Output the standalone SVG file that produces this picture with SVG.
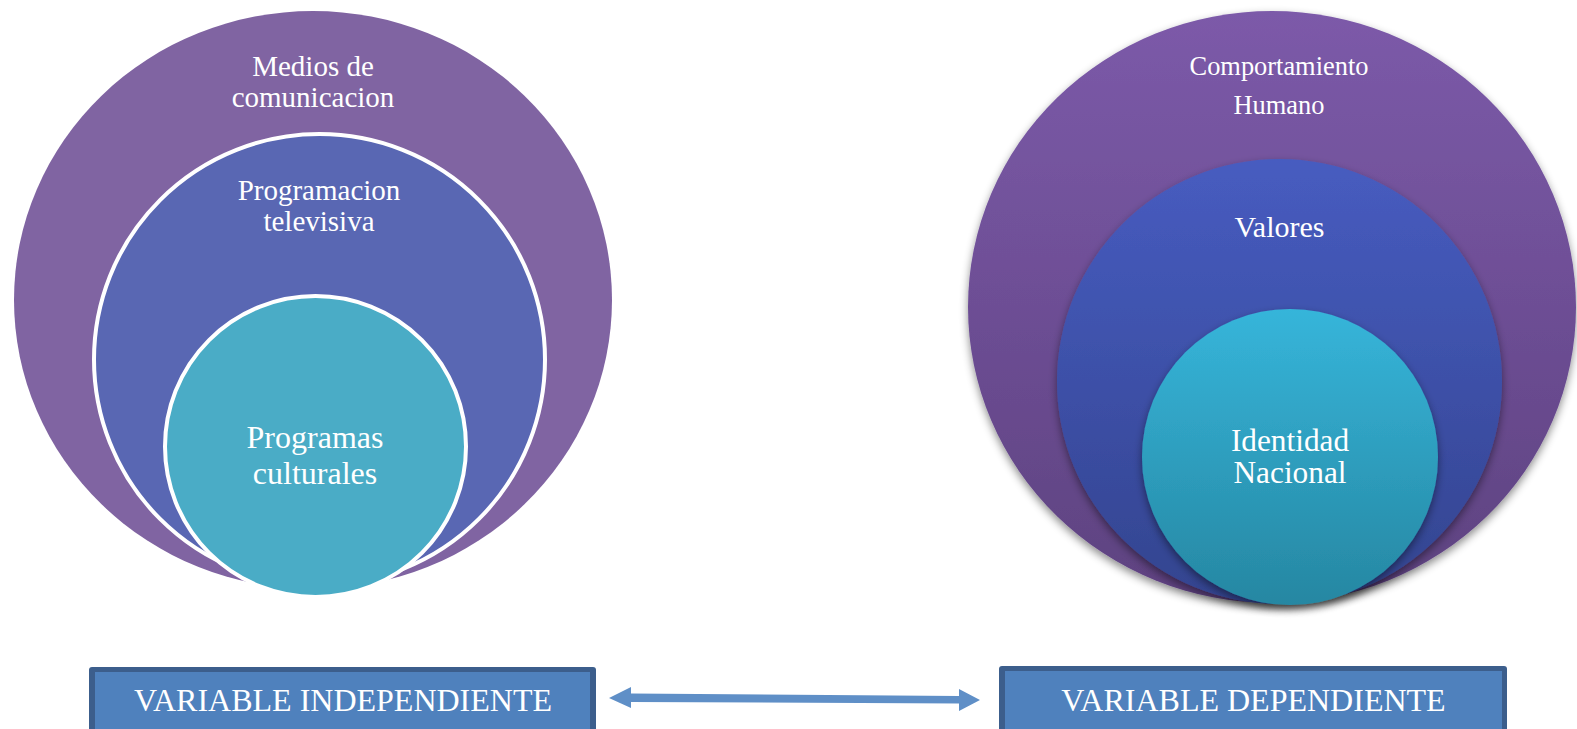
<svg xmlns="http://www.w3.org/2000/svg" width="1577" height="729" viewBox="0 0 1577 729">
<style>
.t{font-family:"Liberation Serif","Times New Roman",serif;fill:#ffffff;text-anchor:middle}
.ring{stroke:#ffffff;stroke-width:4}
.boxo{fill:#3c5e8c}
.boxi{fill:#4f81bd}
</style>
<defs>
<linearGradient id="gOuter" x1="0" y1="0" x2="0" y2="1"><stop offset="0" stop-color="#7c5aa9"/><stop offset="1" stop-color="#5e4280"/></linearGradient>
<linearGradient id="gMid" x1="0" y1="0" x2="0" y2="1"><stop offset="0" stop-color="#475cc0"/><stop offset="1" stop-color="#33448f"/></linearGradient>
<linearGradient id="gIn" x1="0" y1="0" x2="0" y2="1"><stop offset="0" stop-color="#36b5da"/><stop offset="1" stop-color="#2687a2"/></linearGradient>
<filter id="sh" x="-10%" y="-10%" width="120%" height="125%"><feDropShadow dx="0" dy="4" stdDeviation="4" flood-color="#000000" flood-opacity="0.45"/></filter>
</defs>
<rect width="1577" height="729" fill="#ffffff"/>
<g id="medios">
<ellipse cx="313" cy="300" rx="299" ry="289" fill="#8064a2"/>
<text class="t" x="313" y="76" font-size="29">Medios de</text>
<text class="t" x="313" y="107" font-size="29">comunicacion</text>
</g>
<g id="programacion">
<circle class="ring" cx="319.5" cy="359.5" r="225.5" fill="#5967b3"/>
<text class="t" x="319" y="200" font-size="29">Programacion</text>
<text class="t" x="319" y="231" font-size="29">televisiva</text>
</g>
<g id="programas">
<circle class="ring" cx="315.5" cy="446.5" r="150.5" fill="#4aacc6"/>
<text class="t" x="315" y="448" font-size="32">Programas</text>
<text class="t" x="315" y="484" font-size="32">culturales</text>
</g>
<g id="comportamiento">
<ellipse cx="1272" cy="307" rx="304" ry="296" fill="url(#gOuter)" filter="url(#sh)"/>
<text class="t" x="1279" y="75" font-size="26.4">Comportamiento</text>
<text class="t" x="1279" y="114" font-size="26.4">Humano</text>
</g>
<g id="valores">
<circle cx="1279.5" cy="381.5" r="222.5" fill="url(#gMid)" filter="url(#sh)"/>
<text class="t" x="1279.5" y="237" font-size="30">Valores</text>
</g>
<g id="identidad">
<circle cx="1290" cy="457" r="148" fill="url(#gIn)" filter="url(#sh)"/>
<text class="t" x="1290" y="451" font-size="31.3">Identidad</text>
<text class="t" x="1290" y="483" font-size="31.3">Nacional</text>
</g>
<g id="var-independiente">
<rect class="boxo" x="89" y="667" width="507" height="70" rx="3"/>
<rect class="boxi" x="95" y="672" width="495" height="70"/>
<text class="t" x="343" y="711" font-size="32">VARIABLE INDEPENDIENTE</text>
</g>
<g id="var-dependiente">
<rect class="boxo" x="999" y="666" width="508" height="70" rx="3"/>
<rect class="boxi" x="1005" y="671" width="497" height="70"/>
<text class="t" x="1253.5" y="711" font-size="32">VARIABLE DEPENDIENTE</text>
</g>
<g id="connectors">
<polygon points="609,698 631,687 631,693.5 959,696 959,689 980,700 959,711 959,703.5 631,702 631,708" fill="#5f8fc7"/>
</g>
</svg>
